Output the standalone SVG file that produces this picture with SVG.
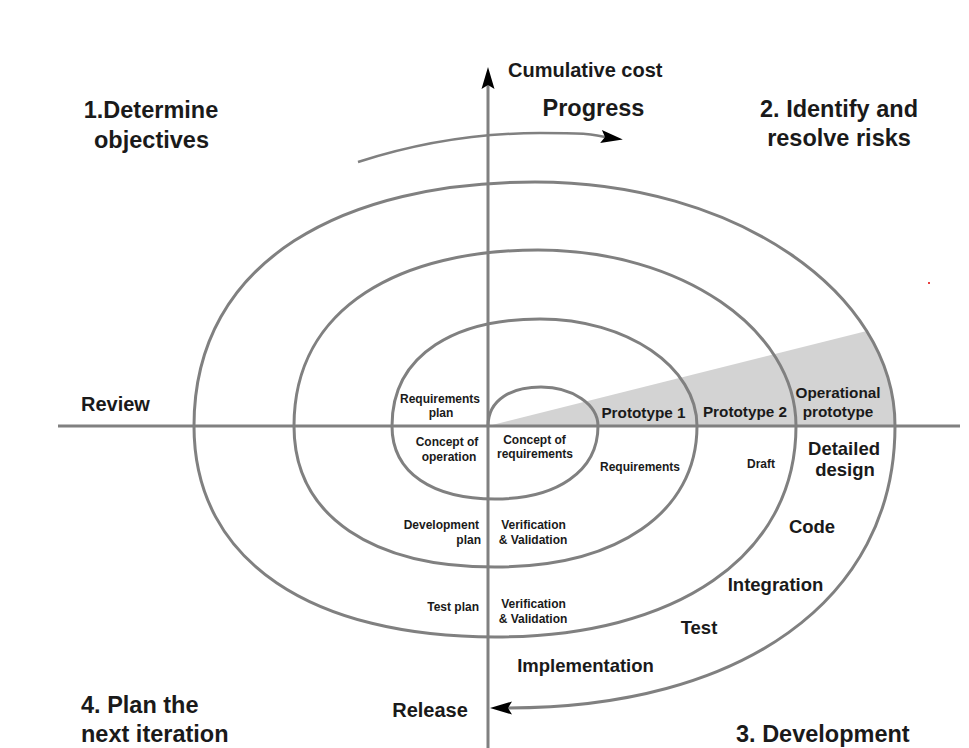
<svg xmlns="http://www.w3.org/2000/svg" width="969" height="748" viewBox="0 0 969 748">
<style>
text{font-family:"Liberation Sans",Arial,sans-serif;font-weight:bold;fill:#1a1a1a}
.h{font-size:23.5px}
.m{font-size:20px}
.d{font-size:18.5px}
.p{font-size:15.3px}
.s{font-size:12px}
.c{text-anchor:middle}
.e{text-anchor:end}
.ln{fill:none;stroke:#808080;stroke-width:3}
</style>
<defs>
<marker id="ah" markerUnits="userSpaceOnUse" markerWidth="30" markerHeight="20" viewBox="-2 -10 30 20" refX="4" refY="0" orient="auto">
<path d="M0,-6.5 L22,0 L0,6.5 L4,0 Z" fill="#000"/>
</marker>
</defs>
<rect width="969" height="748" fill="#fff"/>
<g id="wedge">
<path d="M488,426 L866.7,331 C884.9,360.2 895,392.3 895,426 Z" fill="#d3d3d3"/>
</g>
<g id="connectors">
<path id="axis-x" class="ln" d="M58,426 H960"/>
<path id="axis-y" class="ln" d="M488,748 V85" marker-end="url(#ah)"/>
<path id="progress-arrow" d="M358,162 C420,142 480,133 540,133 S590,135 605,137" fill="none" stroke="#808080" stroke-width="2.5" marker-end="url(#ah)"/>
<path id="spiral" class="ln" marker-end="url(#ah)" d="M488,426
C488,399.1 511.9,387 541,387 C572.5,387 598,404.5 598,426
C598,471.3 556.8,499 495,499 C433.2,499 392,473.5 392,426
C392,352.2 458.6,319 540,319 C626.7,319 697,366.9 697,426
C697,513.4 616.2,567 495,567 C374.4,567 294,517.7 294,426
C294,304.6 403.8,250 538,250 C680.4,250 796,328.8 796,426
C796,556.8 675.6,637 495,637 C314.4,637 194,563.2 194,426
C194,257.6 347.5,182 535,182 C733.7,182 895,291.3 895,426
C895,601 740,708 508,708"/>
</g>
<g id="quadrant-labels">
<text class="h c" x="151" y="118">1.Determine</text>
<text class="h c" x="151.5" y="148">objectives</text>
<text class="h c" x="839" y="117">2. Identify and</text>
<text class="h c" x="839" y="146">resolve risks</text>
<text class="h" x="81" y="713">4. Plan the</text>
<text class="h" x="81" y="742">next iteration</text>
<text class="h" x="736" y="742">3. Development</text>
</g>
<g id="axis-labels">
<text class="m" x="508" y="77">Cumulative cost</text>
<text class="h c" x="593.5" y="116">Progress</text>
<text class="m" x="81" y="411">Review</text>
<text class="m c" x="430" y="717">Release</text>
</g>
<g id="development-steps">
<text class="d c" x="844" y="455">Detailed</text>
<text class="d c" x="845" y="476">design</text>
<text class="d c" x="812" y="533">Code</text>
<text class="d c" x="775.5" y="591">Integration</text>
<text class="d c" x="699" y="634">Test</text>
<text class="d c" x="585.5" y="672">Implementation</text>
</g>
<g id="prototypes">
<text class="p c" x="643.5" y="418">Prototype 1</text>
<text class="p c" x="745" y="417">Prototype 2</text>
<text class="p c" x="838" y="398">Operational</text>
<text class="p c" x="838" y="417">prototype</text>
</g>
<g id="inner-labels">
<text class="s c" x="440" y="403">Requirements</text>
<text class="s c" x="441" y="417">plan</text>
<text class="s c" x="447" y="446">Concept of</text>
<text class="s c" x="449" y="461">operation</text>
<text class="s c" x="534.5" y="444">Concept of</text>
<text class="s c" x="535" y="458">requirements</text>
<text class="s c" x="640" y="471">Requirements</text>
<text class="s c" x="761" y="468">Draft</text>
<text class="s e" x="479" y="529">Development</text>
<text class="s e" x="481" y="544">plan</text>
<text class="s c" x="533.5" y="529">Verification</text>
<text class="s c" x="533" y="544">&amp; Validation</text>
<text class="s e" x="479" y="611">Test plan</text>
<text class="s c" x="533.5" y="608">Verification</text>
<text class="s c" x="533" y="623">&amp; Validation</text>
</g>
<circle cx="929" cy="283" r="1" fill="#e00000"/>
</svg>
